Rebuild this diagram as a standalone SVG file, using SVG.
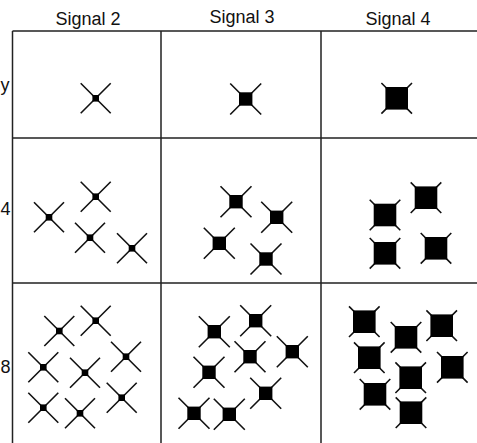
<svg xmlns="http://www.w3.org/2000/svg" xmlns:xlink="http://www.w3.org/1999/xlink" width="477" height="443" viewBox="0 0 477 443">
<style>
.grid{stroke:#222;stroke-width:1.5;fill:none}
.lbl{font-family:"Liberation Sans",Arial,sans-serif;font-size:18px;fill:#111}
.arm{stroke:#111;stroke-width:1.6;fill:none}
.sq{fill:#000}
</style>
<defs>
<g id="m2"><path class="arm" d="M-15,-15L15,15M15,-15L-15,15"/><rect class="sq" x="-3.3" y="-3.3" width="6.6" height="6.6"/></g>
<g id="m3"><path class="arm" d="M-15.5,-15.5L15.5,15.5M15.5,-15.5L-15.5,15.5"/><rect class="sq" x="-6.7" y="-6.7" width="13.4" height="13.4"/></g>
<g id="m4"><path class="arm" d="M-15.3,-15.3L15.3,15.3M15.3,-15.3L-15.3,15.3"/><rect class="sq" x="-11.3" y="-11.3" width="22.6" height="22.6"/></g>
</defs>
<rect width="477" height="443" fill="#fff"/>
<g id="grid" class="grid">
<path d="M12.5,31V443M161,31V443M321,31V443M12.5,31H477M12.5,138H477M12.5,283H477"/>
</g>
<g id="headers">
<text class="lbl" x="88" y="25" text-anchor="middle">Signal 2</text>
<text class="lbl" x="242" y="23" text-anchor="middle">Signal 3</text>
<text class="lbl" x="398" y="25" text-anchor="middle">Signal 4</text>
</g>
<g id="rowlabels">
<text class="lbl" x="0.5" y="91">y</text>
<text class="lbl" x="0.5" y="215">4</text>
<text class="lbl" x="0.5" y="373">8</text>
</g>
<g id="cell-r1c1"><use xlink:href="#m2" x="95.7" y="98.3"/></g>
<g id="cell-r1c2"><use xlink:href="#m3" x="245.7" y="99"/></g>
<g id="cell-r1c3"><use xlink:href="#m4" x="396.7" y="98.3"/></g>
<g id="cell-r2c1">
<use xlink:href="#m2" x="49" y="217.3"/>
<use xlink:href="#m2" x="95.7" y="196.7"/>
<use xlink:href="#m2" x="90" y="237.7"/>
<use xlink:href="#m2" x="132" y="248.3"/>
</g>
<g id="cell-r2c2">
<use xlink:href="#m3" x="236" y="201.7"/>
<use xlink:href="#m3" x="276.7" y="217.3"/>
<use xlink:href="#m3" x="219.3" y="243.3"/>
<use xlink:href="#m3" x="266" y="259"/>
</g>
<g id="cell-r2c3">
<use xlink:href="#m4" x="385" y="215"/>
<use xlink:href="#m4" x="426" y="197.7"/>
<use xlink:href="#m4" x="385" y="253.3"/>
<use xlink:href="#m4" x="436" y="248.3"/>
</g>
<g id="cell-r3c1">
<use xlink:href="#m2" x="59.3" y="331"/>
<use xlink:href="#m2" x="95.7" y="320.7"/>
<use xlink:href="#m2" x="126" y="356.7"/>
<use xlink:href="#m2" x="43.3" y="367.3"/>
<use xlink:href="#m2" x="85" y="372.7"/>
<use xlink:href="#m2" x="121.7" y="397.7"/>
<use xlink:href="#m2" x="43.3" y="407.7"/>
<use xlink:href="#m2" x="80" y="413.3"/>
</g>
<g id="cell-r3c2">
<use xlink:href="#m3" x="214.3" y="331.7"/>
<use xlink:href="#m3" x="255.7" y="320.7"/>
<use xlink:href="#m3" x="250" y="356.7"/>
<use xlink:href="#m3" x="292.3" y="351.7"/>
<use xlink:href="#m3" x="209" y="372.3"/>
<use xlink:href="#m3" x="265.7" y="393.3"/>
<use xlink:href="#m3" x="194" y="413.3"/>
<use xlink:href="#m3" x="229.3" y="414.3"/>
</g>
<g id="cell-r3c3">
<use xlink:href="#m4" x="364.3" y="321.7"/>
<use xlink:href="#m4" x="406" y="337.3"/>
<use xlink:href="#m4" x="441.7" y="325.7"/>
<use xlink:href="#m4" x="369.3" y="357.7"/>
<use xlink:href="#m4" x="410.7" y="377.7"/>
<use xlink:href="#m4" x="452.3" y="367.3"/>
<use xlink:href="#m4" x="375" y="394.3"/>
<use xlink:href="#m4" x="411" y="412.7"/>
</g>
</svg>
